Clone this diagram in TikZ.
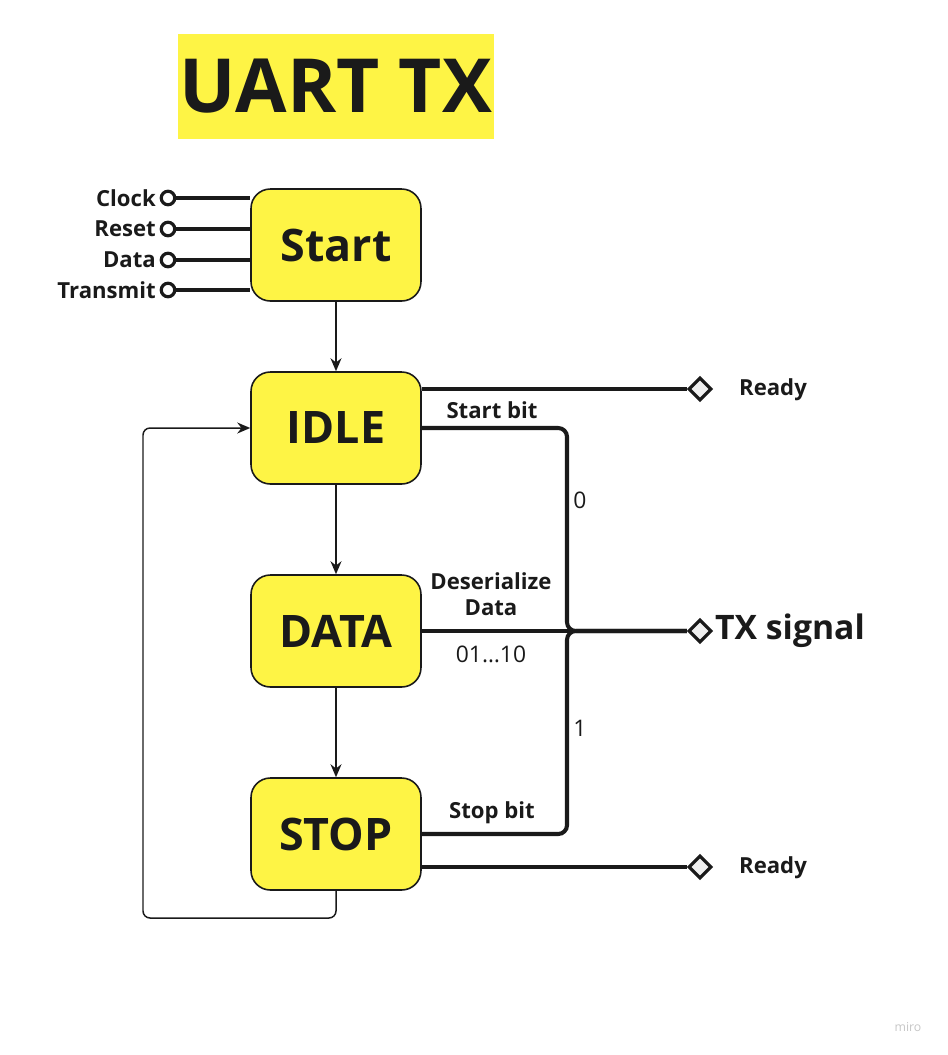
\documentclass[tikz,border=0pt]{standalone}
\usepackage{fontspec}
\setmainfont{Open Sans}
\usetikzlibrary{arrows.meta, positioning, shapes.geometric}

\definecolor{miroyellow}{HTML}{FEF445}
\definecolor{ink}{HTML}{1A1A1A}

\begin{document}
\begin{tikzpicture}[
  x=0.02cm, y=-0.02cm,
  state/.style={rectangle, draw=ink, line width=0.9pt, rounded corners=11pt,
                fill=miroyellow, minimum width=3.4cm, minimum height=2.24cm,
                font=\fontsize{25.5}{30}\selectfont\bfseries, text=ink},
  pin/.style={circle, draw=ink, line width=1.8pt, fill=white,
              minimum size=0.27cm, inner sep=0pt},
  port/.style={diamond, draw=ink, line width=1.8pt, fill=gray!12,
               minimum size=0.46cm, inner sep=0pt},
  lbl/.style={font=\fontsize{12.6}{15}\selectfont\bfseries, text=ink, align=center},
  bit/.style={font=\fontsize{13}{15}\selectfont, text=ink},
  bus/.style={line width=2.3pt, draw=ink},
  flow/.style={-{Stealth[length=2.6mm, width=2.2mm]}, line width=0.85pt, draw=ink},
]
\useasboundingbox (0,0) rectangle (947,1055);

% ---- title ----
\node[fill=miroyellow, minimum width=6.32cm, minimum height=2.1cm, inner sep=0pt,
      font=\fontsize{42.5}{46}\selectfont\bfseries, text=ink] (title) at (336,86.5) {UART TX};

% ---- states ----
\node[state] (start) at (336,245) {Start};
\node[state] (idle)  at (336,428) {IDLE};
\node[state] (data)  at (336,631) {DATA};
\node[state] (stop)  at (336,834) {STOP};

% ---- inputs ----
\node[pin] (clk) at (168,198) {};
\node[pin] (rst) at (168,229) {};
\node[pin] (din) at (168,260) {};
\node[pin] (trm) at (168,290) {};
\node[lbl, left=0pt of clk, inner sep=2pt] (l-clk) {Clock};
\node[lbl, left=0pt of rst, inner sep=2pt] (l-rst) {Reset};
\node[lbl, left=0pt of din, inner sep=2pt] (l-din) {Data};
\node[lbl, left=0pt of trm, inner sep=2pt] (l-trm) {Transmit};
\draw[bus, line width=1.9pt] (clk) -- (clk -| start.west);
\draw[bus, line width=1.9pt] (rst) -- (rst -| start.west);
\draw[bus, line width=1.9pt] (din) -- (din -| start.west);
\draw[bus, line width=1.9pt] (trm) -- (trm -| start.west);

% ---- state flow ----
\draw[flow] (start) -- (idle);
\draw[flow] (idle) -- (data);
\draw[flow] (data) -- (stop);
\coordinate (loop) at (143,918);
\draw[flow, rounded corners=4pt] (stop.south) |- (loop) |- (idle.west);

% ---- outputs ----
\node[port] (rdy-top) at (700,389) {};
\node[port] (tx)      at (700,631) {};
\node[port] (rdy-bot) at (700,867) {};
\node[lbl] (l-rdy-top) at (773,390) {Ready};
\node[lbl] (l-rdy-bot) at (773,868) {Ready};
\node[lbl, font=\fontsize{19.2}{23}\selectfont\bfseries, inner sep=1pt,
      right=0pt of tx] (l-tx) {TX signal};

\coordinate (merge) at (567,631);
\draw[bus] (idle.east |- rdy-top) -- (rdy-top);
\draw[bus] (stop.east |- rdy-bot) -- (rdy-bot);
\draw[bus] (data.east) -- (tx);
\draw[bus, rounded corners=5pt] (idle.east) -| (merge) -- (tx);
\draw[bus, rounded corners=5pt] (stop.east) -| (merge) -- (tx);

% ---- bit labels ----
\node[lbl] (l-start) at (492,410) {Start bit};
\node[bit] (l-zero)  at (580,500) {0};
\node[lbl] (l-deser) at (491,594) {Deserialize\\Data};
\node[bit] (l-bits)  at (491,654) {01…10};
\node[bit] (l-one)   at (580,728) {1};
\node[lbl] (l-stop)  at (492,813) {Stop bit};

\node[font=\fontsize{7}{8}\selectfont, text=gray!45] (mark) at (908,1027) {miro};

\end{tikzpicture}
\end{document}
